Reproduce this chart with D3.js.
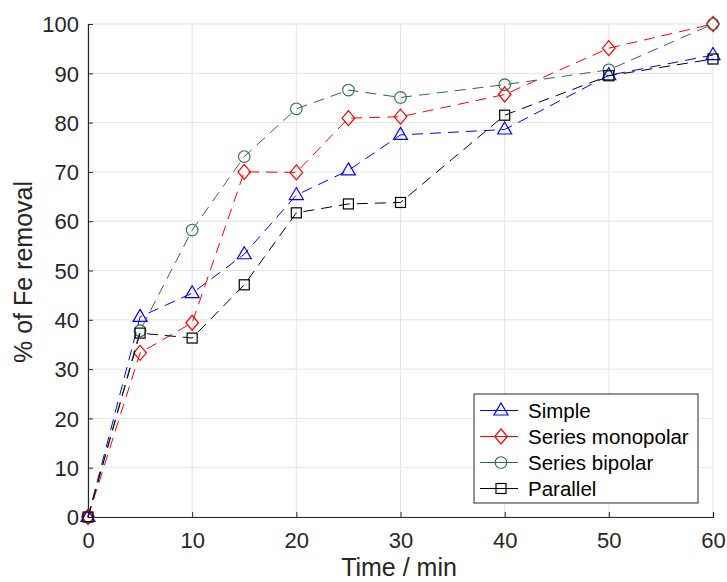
<!DOCTYPE html>
<html><head><meta charset="utf-8">
<script src="https://cdn.jsdelivr.net/npm/d3@7"></script>
<style>body{margin:0;background:#fff}svg{display:block}text{font-family:"Liberation Sans",Arial,Helvetica,sans-serif}</style>
</head><body><svg id="c" width="727" height="582"></svg>
<script>
const times = [0, 5, 10, 15, 20, 25, 30, 40, 50, 60];
const simple = [0, 40.6, 45.4, 53.3, 65.3, 70.3, 77.5, 78.6, 89.6, 93.7];
const seriesMonopolar = [0, 33.3, 39.4, 70.0, 69.9, 80.9, 81.2, 85.7, 95.1, 100];
const seriesBipolar = [0, 37.8, 58.2, 73.1, 82.8, 86.6, 85.1, 87.7, 90.7, 100];
const parallel = [0, 37.3, 36.3, 47.1, 61.7, 63.5, 63.8, 81.5, 89.5, 92.9];
const seriesNames = ["Simple", "Series monopolar", "Series bipolar", "Parallel"];
const seriesColors = ["#0000ff", "#ff0000", "#2e6b4c", "#000000"];
const markerTypes = ["triangle", "diamond", "circle", "square"];
const xTicks = [0, 10, 20, 30, 40, 50, 60];
const yTicks = [0, 10, 20, 30, 40, 50, 60, 70, 80, 90, 100];
const xLabel = "Time / min";
const yLabel = "% of Fe removal";

const allSeries = [simple, seriesMonopolar, seriesBipolar, parallel];
const svg = d3.select("#c");
const L = 88, R = 713, T = 24, B = 517;
const x = d3.scaleLinear().domain([0, 60]).range([L, R]);
const y = d3.scaleLinear().domain([0, 100]).range([B, T]);

// grid
const g = svg.append("g");
g.selectAll(".gx").data(xTicks).enter().append("line")
  .attr("x1", d => x(d)).attr("x2", d => x(d)).attr("y1", T).attr("y2", B)
  .attr("stroke", "#e3e3e3").attr("stroke-width", 1);
g.selectAll(".gy").data(yTicks).enter().append("line")
  .attr("x1", L).attr("x2", R).attr("y1", d => y(d)).attr("y2", d => y(d))
  .attr("stroke", "#e3e3e3").attr("stroke-width", 1);

// axes
const xAxis = d3.axisBottom(x).tickValues(xTicks).tickSize(-5).tickFormat(d3.format("d"));
const yAxis = d3.axisLeft(y).tickValues(yTicks).tickSize(-5).tickFormat(d3.format("d"));
const gx = svg.append("g").attr("transform", `translate(0,${B})`).call(xAxis);
const gy = svg.append("g").attr("transform", `translate(${L},0)`).call(yAxis);
[gx, gy].forEach(a => {
  a.select(".domain").attr("stroke", "#262626").attr("stroke-width", 1.2);
  a.selectAll(".tick line").attr("stroke", "#262626");
  a.selectAll(".tick text").attr("fill", "#262626").style("font-size", "22px")
    .style("font-family", '"Liberation Sans",Arial,sans-serif');
});
gx.selectAll(".tick text").attr("y", 23.5).attr("dy", "0.35em");
gy.selectAll(".tick text").attr("x", -9).attr("dy", "0.35em");

svg.append("text").attr("x", 399).attr("y", 576).attr("text-anchor", "middle")
  .style("font-size", "25px").attr("fill", "#262626").text(xLabel);
svg.append("text").attr("transform", `translate(32,272) rotate(-90)`)
  .attr("text-anchor", "middle").style("font-size", "25px").attr("fill", "#262626").text(yLabel);

function marker(sel, type, color) {
  if (type === "circle") {
    sel.append("circle").attr("r", 5.8).attr("fill", "none").attr("stroke", color).attr("stroke-width", 1.1);
  } else if (type === "square") {
    sel.append("rect").attr("x", -5).attr("y", -5).attr("width", 10).attr("height", 10)
      .attr("fill", "none").attr("stroke", color).attr("stroke-width", 1.2);
  } else if (type === "diamond") {
    sel.append("path").attr("d", "M0,-7.5L6.3,0L0,7.5L-6.3,0Z").attr("fill", "none").attr("stroke", color).attr("stroke-width", 1.2);
  } else {
    sel.append("path").attr("d", "M0,-7.5L7,4.5L-7,4.5Z").attr("fill", "none").attr("stroke", color).attr("stroke-width", 1.2);
  }
}

const line = d3.line().x(d => x(d[0])).y(d => y(d[1]));
allSeries.forEach((vals, i) => {
  const pts = times.map((t, j) => [t, vals[j]]);
  svg.append("path").datum(pts).attr("d", line).attr("fill", "none")
    .attr("stroke", seriesColors[i]).attr("stroke-width", 1).attr("stroke-dasharray", "11,7");
  pts.forEach(p => {
    const m = svg.append("g").attr("transform", `translate(${x(p[0])},${y(p[1])})`);
    marker(m, markerTypes[i], seriesColors[i]);
  });
});

// legend
const lg = svg.append("g").attr("transform", "translate(474,394)");
lg.append("rect").attr("width", 224).attr("height", 109).attr("fill", "#fff").attr("stroke", "#262626").attr("stroke-width", 1);
seriesNames.forEach((n, i) => {
  const yy = 16.5 + i * 26;
  lg.append("line").attr("x1", 6).attr("x2", 44).attr("y1", yy).attr("y2", yy).attr("stroke", seriesColors[i]).attr("stroke-width", 1);
  const m = lg.append("g").attr("transform", `translate(27,${yy})`);
  marker(m, markerTypes[i], seriesColors[i]);
  lg.append("text").attr("x", 54).attr("y", yy).attr("dy", "0.35em").style("font-size", "20.5px").attr("fill", "#000").text(n);
});
</script></body></html>
